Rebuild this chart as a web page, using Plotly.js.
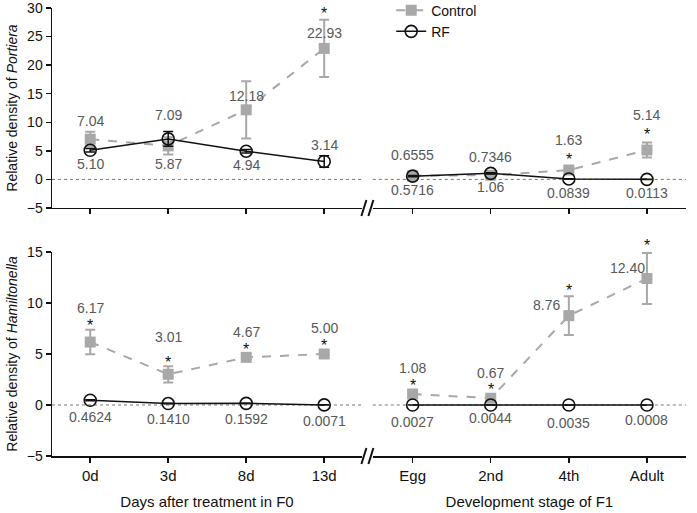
<!DOCTYPE html>
<html>
<head>
<meta charset="utf-8">
<script src="https://cdn.plot.ly/plotly-3.0.1.min.js"></script>
<style>html,body{margin:0;padding:0;background:#fff;}#chart{width:697px;height:513px;}</style>
</head>
<body>
<div id="chart"></div>
<script>
// ---- data ----
const f0Cats = ['0d', '3d', '8d', '13d'];
const f1Cats = ['Egg', '2nd', '4th', 'Adult'];

const portF0Control = [7.04, 5.87, 12.18, 22.93];
const portF0ControlErr = [1.3, 1.5, 5.0, 5.0];
const portF0RF = [5.10, 7.09, 4.94, 3.14];
const portF0RFErr = [0.3, 1.3, 0.3, 1.0];
const portF0ControlLabels = ['7.04', '5.87', '12.18', '22.93'];
const portF0RFLabels = ['5.10', '7.09', '4.94', '3.14'];
const portF0Sig = [false, false, false, true];

const portF1Control = [0.6555, 0.7346, 1.63, 5.14];
const portF1ControlErr = [0.2, 0.2, 0.4, 1.3];
const portF1RF = [0.5716, 1.06, 0.0839, 0.0113];
const portF1RFErr = [0.1, 0.1, 0.05, 0.01];
const portF1ControlLabels = ['0.6555', '0.7346', '1.63', '5.14'];
const portF1RFLabels = ['0.5716', '1.06', '0.0839', '0.0113'];
const portF1Sig = [false, false, true, true];

const hamF0Control = [6.17, 3.01, 4.67, 5.00];
const hamF0ControlErr = [1.2, 0.8, 0.2, 0.1];
const hamF0RF = [0.4624, 0.1410, 0.1592, 0.0071];
const hamF0RFErr = [0.05, 0.02, 0.02, 0.005];
const hamF0ControlLabels = ['6.17', '3.01', '4.67', '5.00'];
const hamF0RFLabels = ['0.4624', '0.1410', '0.1592', '0.0071'];
const hamF0Sig = [true, true, true, true];

const hamF1Control = [1.08, 0.67, 8.76, 12.40];
const hamF1ControlErr = [0.1, 0.1, 1.9, 2.5];
const hamF1RF = [0.0027, 0.0044, 0.0035, 0.0008];
const hamF1RFErr = [0.001, 0.001, 0.001, 0.0005];
const hamF1ControlLabels = ['1.08', '0.67', '8.76', '12.40'];
const hamF1RFLabels = ['0.0027', '0.0044', '0.0035', '0.0008'];
const hamF1Sig = [true, true, true, true];

// ---- styles ----
const GRAY = '#a8a8a8';
const LABEL_COLOR = '#585858';
const FONT = 'Liberation Sans, Arial, sans-serif';
const NARROW = 'Liberation Sans Narrow, Liberation Sans, Arial, sans-serif';

function controlTrace(cats, vals, errs, xa, ya, show) {
  return {
    type: 'scatter', mode: 'lines+markers', name: 'Control', x: cats, y: vals,
    xaxis: xa, yaxis: ya, showlegend: show, legendgroup: 'c',
    line: {color: GRAY, width: 2, dash: 'dash'},
    marker: {symbol: 'square', size: 11, color: GRAY},
    error_y: {type: 'data', array: errs, visible: true, color: GRAY, thickness: 2, width: 5},
    hoverinfo: 'skip'
  };
}
function rfTrace(cats, vals, errs, xa, ya, show) {
  return {
    type: 'scatter', mode: 'lines+markers', name: 'RF', x: cats, y: vals,
    xaxis: xa, yaxis: ya, showlegend: show, legendgroup: 'r',
    line: {color: '#111', width: 1.5},
    marker: {symbol: 'circle-open', size: 12, color: '#111', line: {width: 1.6, color: '#111'}},
    error_y: {type: 'data', array: errs, visible: true, color: '#111', thickness: 1.5, width: 5},
    hoverinfo: 'skip'
  };
}

const data = [
  controlTrace(f0Cats, portF0Control, portF0ControlErr, 'x', 'y', true),
  rfTrace(f0Cats, portF0RF, portF0RFErr, 'x', 'y', true),
  controlTrace(f1Cats, portF1Control, portF1ControlErr, 'x2', 'y2', false),
  rfTrace(f1Cats, portF1RF, portF1RFErr, 'x2', 'y2', false),
  controlTrace(f0Cats, hamF0Control, hamF0ControlErr, 'x3', 'y3', false),
  rfTrace(f0Cats, hamF0RF, hamF0RFErr, 'x3', 'y3', false),
  controlTrace(f1Cats, hamF1Control, hamF1ControlErr, 'x4', 'y4', false),
  rfTrace(f1Cats, hamF1RF, hamF1RFErr, 'x4', 'y4', false)
];

// ---- annotations (value labels + significance stars) ----
const annotations = [];
function label(xa, ya, cat, y, text, dy, dx) {
  annotations.push({xref: xa, yref: ya, x: cat, y: y, text: text, showarrow: false, borderpad: 0,
    yshift: -dy, xshift: dx || 0, font: {family: FONT, size: 14, color: LABEL_COLOR}});
}
function star(xa, ya, cat, y, dy, dx) {
  annotations.push({xref: xa, yref: ya, x: cat, y: y, text: '*', showarrow: false, borderpad: 0,
    yshift: -dy, xshift: dx || 0, font: {family: FONT, size: 16, color: '#111'}});
}
// offsets in screen pixels (positive = downwards)
const offs = {
  pC: [-18, 18, -14, -15], pR: [14, -24, 14, -16], pS: [0, 0, 0, -35],
  p1C: [-21, -18, -30, -35], p1R: [14, 14, 14, 14], p1S: [0, 0, -11, -16],
  hC: [-34, -37, -25, -26], hR: [17, 15, 16, 16], hS: [-17, -12, -8, -8],
  h1C: [-26, -25, -11, -11], h1Cx: [0, 0, -22, -19], h1R: [17, 13, 18, 15], h1S: [-8, -9, -25, -33]
};
for (let i = 0; i < 4; i++) {
  label('x', 'y', f0Cats[i], portF0Control[i], portF0ControlLabels[i], offs.pC[i]);
  label('x', 'y', f0Cats[i], portF0RF[i], portF0RFLabels[i], offs.pR[i]);
  if (portF0Sig[i]) star('x', 'y', f0Cats[i], portF0Control[i], offs.pS[i]);
  label('x2', 'y2', f1Cats[i], portF1Control[i], portF1ControlLabels[i], offs.p1C[i]);
  label('x2', 'y2', f1Cats[i], portF1RF[i], portF1RFLabels[i], offs.p1R[i]);
  if (portF1Sig[i]) star('x2', 'y2', f1Cats[i], portF1Control[i], offs.p1S[i]);
  label('x3', 'y3', f0Cats[i], hamF0Control[i], hamF0ControlLabels[i], offs.hC[i]);
  label('x3', 'y3', f0Cats[i], hamF0RF[i], hamF0RFLabels[i], offs.hR[i]);
  if (hamF0Sig[i]) star('x3', 'y3', f0Cats[i], hamF0Control[i], offs.hS[i]);
  label('x4', 'y4', f1Cats[i], hamF1Control[i], hamF1ControlLabels[i], offs.h1C[i], offs.h1Cx[i]);
  label('x4', 'y4', f1Cats[i], hamF1RF[i], hamF1RFLabels[i], offs.h1R[i]);
  if (hamF1Sig[i]) star('x4', 'y4', f1Cats[i], hamF1Control[i], offs.h1S[i]);
}

// ---- shapes: dotted zero lines and axis-break marks ----
const shapes = [];
[['x', 'y'], ['x2', 'y2'], ['x3', 'y3'], ['x4', 'y4']].forEach(function (p) {
  shapes.push({type: 'line', xref: p[0] + ' domain', yref: p[1], x0: 0, x1: 1, y0: 0, y1: 0,
    line: {color: '#777', width: 1, dash: 'dot'}, layer: 'below'});
});
['y', 'y3'].forEach(function (ya) {
  [[-6, -1], [1, 6]].forEach(function (s) {
    shapes.push({type: 'line', xref: 'paper', yref: ya + ' domain', xsizemode: 'pixel', ysizemode: 'pixel',
      xanchor: 0.4975, yanchor: 0, x0: s[0], x1: s[1], y0: -8, y1: 8, line: {color: '#111', width: 2}});
  });
});

const xBase = {type: 'category', showline: true, linecolor: '#111', linewidth: 1.5, ticks: 'outside',
  ticklen: 5, tickwidth: 1.5, tickcolor: '#111', showgrid: false, zeroline: false, fixedrange: true,
  tickfont: {family: NARROW, size: 15, color: '#111'}};
const yBase = {showline: true, linecolor: '#111', linewidth: 1.5, ticks: 'outside', ticklen: 5,
  tickwidth: 1.5, tickcolor: '#111', showgrid: false, zeroline: false, ticklabeloverflow: 'allow',
  tickfont: {family: FONT, size: 14, color: '#111'}};
const yHidden = {showline: false, showticklabels: false, ticks: '', showgrid: false, zeroline: false};

const leftDom = [0, 0.489];
const rightDom = [0.506, 1];
const topDom = [0.5536, 1];
const botDom = [0, 0.4554];

const layout = {
  width: 697, height: 513,
  margin: {l: 52, r: 11, t: 8, b: 57, autoexpand: false},
  paper_bgcolor: '#fff', plot_bgcolor: 'rgba(0,0,0,0)',
  font: {family: FONT, color: '#111'},
  showlegend: true,
  legend: {x: 0.535, y: 1.03, xanchor: 'left', yanchor: 'top', bgcolor: 'rgba(0,0,0,0)',
    font: {family: FONT, size: 14, color: '#111'}, tracegroupgap: 0, itemwidth: 30},
  xaxis: Object.assign({}, xBase, {domain: leftDom, anchor: 'y', range: [-0.49, 3.485], showticklabels: false}),
  yaxis: Object.assign({}, yBase, {domain: topDom, anchor: 'x', range: [-5, 30], tickvals: [-5, 0, 5, 10, 15, 20, 25, 30],
    title: {text: 'Relative density of <i>Portiera</i>', font: {family: FONT, size: 14, color: '#111'}, standoff: 6}}),
  xaxis2: Object.assign({}, xBase, {domain: rightDom, anchor: 'y2', range: [-0.51, 3.5], showticklabels: false}),
  yaxis2: Object.assign({}, yHidden, {domain: topDom, anchor: 'x2', range: [-5, 30]}),
  xaxis3: Object.assign({}, xBase, {domain: leftDom, anchor: 'y3', range: [-0.49, 3.485],
    title: {text: 'Days after treatment in F0', font: {family: NARROW, size: 15, color: '#111'}, standoff: 14}}),
  yaxis3: Object.assign({}, yBase, {domain: botDom, anchor: 'x3', range: [-5, 15], tickvals: [-5, 0, 5, 10, 15],
    title: {text: 'Relative density of <i>Hamiltonella</i>', font: {family: FONT, size: 14, color: '#111'}, standoff: 6}}),
  xaxis4: Object.assign({}, xBase, {domain: rightDom, anchor: 'y4', range: [-0.51, 3.5],
    title: {text: 'Development stage of F1', font: {family: NARROW, size: 15, color: '#111'}, standoff: 14}}),
  yaxis4: Object.assign({}, yHidden, {domain: botDom, anchor: 'x4', range: [-5, 15]}),
  annotations: annotations,
  shapes: shapes
};

Plotly.newPlot('chart', data, layout, {displayModeBar: false, staticPlot: true});
</script>
</body>
</html>
